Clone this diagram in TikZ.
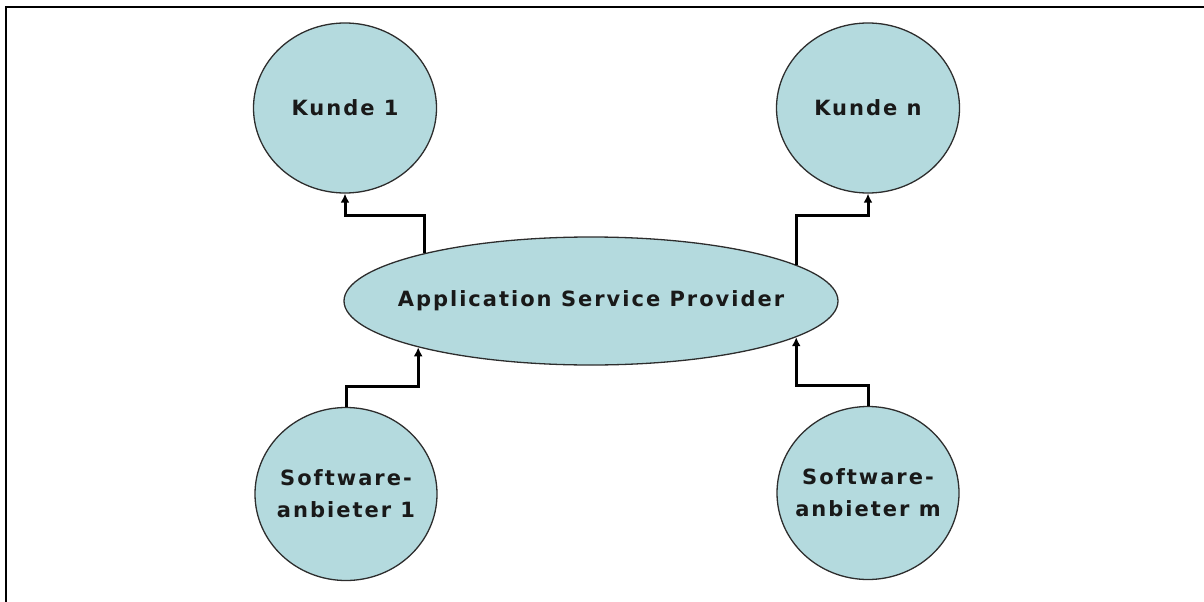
\documentclass[tikz,border=0pt]{standalone}
\usepackage{fontspec}
\setmainfont{DejaVu Sans}[BoldFont={DejaVu Sans Bold}]
\newfontfamily\lblfont{DejaVu Sans Bold}[LetterSpace=9.5]
\usetikzlibrary{shapes.geometric,arrows.meta,calc}
\definecolor{bubble}{RGB}{180,218,222}
\definecolor{rim}{RGB}{45,45,45}
\tikzset{
  bubble/.style={ellipse, draw=rim, line width=1.3pt, fill=bubble, inner sep=0pt},
  lbl/.style={font=\lblfont\fontsize{21}{32}\selectfont, align=center, text=black!90},
  arr/.style={line width=3pt, -{Latex[length=9pt,width=9pt]}},
  frame/.style={line width=2.5pt}
}
\begin{document}
\begin{tikzpicture}[x=1pt,y=-1pt]
\useasboundingbox (0,0) rectangle (1204,602);
\draw[frame] (6,7) rectangle (1230,630);
\node[bubble, minimum width=183pt, minimum height=170pt] (k1) at (345,108) {};
\node[lbl] (k1t) at (k1.center) {Kunde 1};
\node[bubble, minimum width=183pt, minimum height=170pt] (kn) at (868,108) {};
\node[lbl] (knt) at (kn.center) {Kunde n};
\node[bubble, minimum width=494pt, minimum height=128pt] (asp) at (591,301) {};
\node[lbl] (aspt) at (asp.center) {Application Service Provider};
\node[bubble, minimum width=182pt, minimum height=173pt] (s1) at (346,494) {};
\node[lbl] (s1t) at (s1.center) {Software-\\anbieter 1};
\node[bubble, minimum width=182pt, minimum height=173pt] (sm) at (868,493) {};
\node[lbl] (smt) at (sm.center) {Software-\\anbieter m};
\draw[arr] (asp.164.4) |- ([yshift=-22pt]k1.south) -- (k1.south);
\draw[arr] (asp.10.5) |- ([yshift=-22pt]kn.south) -- (kn.south);
\draw[arr] (s1.north) -- ([yshift=20pt]s1.north) -| (asp.195.6);
\draw[arr] (sm.north) -- ([yshift=20pt]sm.north) -| (asp.-10.5);
\end{tikzpicture}
\end{document}
